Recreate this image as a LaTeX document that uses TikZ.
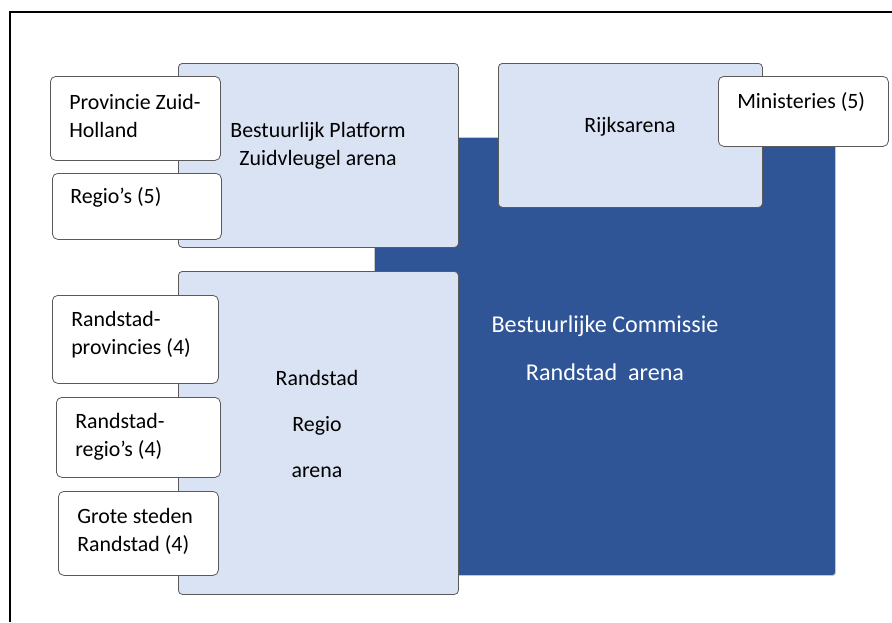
\documentclass[tikz,border=0pt]{standalone}
\usepackage{fontspec}
\setmainfont{Carlito}
\usetikzlibrary{shapes}
\definecolor{arenadark}{RGB}{47,85,151}
\definecolor{arenalight}{RGB}{218,227,243}
\definecolor{boxline}{RGB}{90,90,90}

\begin{document}
\begin{tikzpicture}[x=0.75pt,y=-0.75pt,
  arena/.style={shape=rectangle,draw=boxline,fill=arenalight,rounded corners=3pt,line width=0.6pt,anchor=north west,inner sep=0pt},
  member/.style={shape=rectangle,draw=boxline,fill=white,rounded corners=4pt,line width=0.6pt,anchor=north west,inner sep=0pt},
  txt/.style={inner sep=0pt,font=\fontsize{16.4}{21}\selectfont},
  lefttxt/.style={txt,anchor=west,align=left}]
\useasboundingbox (0,0) rectangle (892,622);
\draw[line width=1.5pt] (10,622) -- (10,12) -- (892,12);

\node[shape=rectangle,draw=gray!45,fill=arenadark,rounded corners=2pt,line width=0.6pt,anchor=north west,inner sep=0pt,minimum width=345.75pt,minimum height=328.5pt] (commissie) at (374,137) {};
\node[arena,minimum width=210pt,minimum height=138pt] (platform) at (178,63) {};
\node[arena,minimum width=198pt,minimum height=108pt] (rijk) at (498,63) {};
\node[arena,minimum width=210pt,minimum height=242.25pt] (randstad) at (178,271) {};

\node[member,minimum width=127.5pt,minimum height=63pt] (zuidholland) at (50,76) {};
\node[member,minimum width=126.75pt,minimum height=49.5pt] (regios) at (52,173) {};
\node[member,minimum width=127.5pt,minimum height=52.5pt] (ministeries) at (718,76) {};
\node[member,minimum width=124.5pt,minimum height=66pt] (rsprovincies) at (52,295) {};
\node[member,minimum width=123pt,minimum height=60pt] (rsregios) at (56,397) {};
\node[member,minimum width=120pt,minimum height=63pt] (grotesteden) at (58,491) {};

\node[txt,text=white,align=center,font=\fontsize{18.1}{36}\selectfont] (commissietxt) at (605,348) {Bestuurlijke Commissie\\Randstad~ arena};
\node[txt,align=center] (platformtxt) at (318,146) {Bestuurlijk Platform\\Zuidvleugel arena};
\node[txt] (rijktxt) at (630,127) {Rijksarena};
\node[txt,align=center,font=\fontsize{16.4}{34.5}\selectfont] (randstadtxt) at (317,424) {Randstad\\Regio\\arena};

\node[lefttxt] (zuidhollandtxt) at (69,116) {Provincie Zuid-\\Holland};
\node[lefttxt] (regiostxt) at (70,197) {Regio’s (5)};
\node[lefttxt] (ministeriestxt) at (737,102) {Ministeries (5)};
\node[lefttxt] (rsprovinciestxt) at (71,335) {Randstad-\\provincies (4)};
\node[lefttxt] (rsregiostxt) at (75,436.5) {Randstad-\\regio’s (4)};
\node[lefttxt] (grotestedentxt) at (77,531.5) {Grote steden\\Randstad (4)};
\end{tikzpicture}
\end{document}
